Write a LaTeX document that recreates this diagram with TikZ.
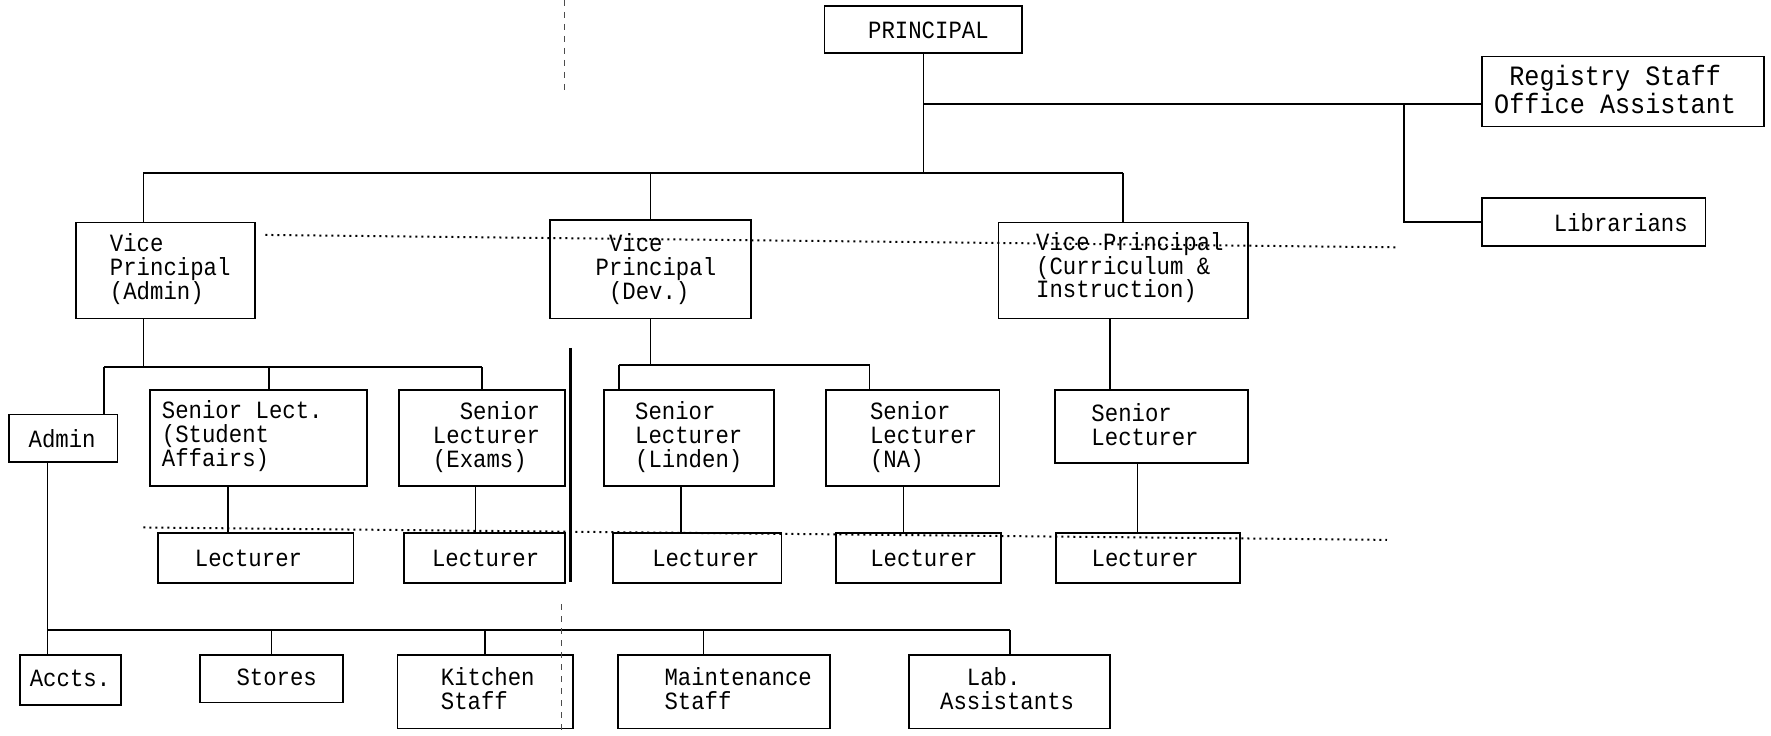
\documentclass[tikz,border=0pt]{standalone}
\usepackage{fontspec}
\newfontfamily\tw{Liberation Mono}[FakeStretch=0.9]
\usetikzlibrary{fit}
\begin{document}
\begin{tikzpicture}[x=0.56475pt,y=-0.56475pt,
  txt/.style={font=\tw\fontsize{12.4}{11.9}\selectfont},
  orgbox/.style={draw, line width=0.9pt, inner sep=0pt},
  lbl/.style={inner sep=0pt, align=left, txt, anchor=west},
  word/.style={inner sep=0pt, txt, anchor=center},
  link/.style={line width=0.8pt},
  dots/.style={line width=1pt, dotted},
  fold/.style={line width=0.6pt, dashed, black!70}]
\useasboundingbox (0,0) rectangle (1568,651);

% ---- top level ----
\node[orgbox, fit={(730,5) (905,47)}] (principal) {};
\node[word] (principal-t) at (822,27) {PRINCIPAL};
\node[orgbox, fit={(1312,50) (1562,112)}] (reg) {};
\node[word, align=center, font=\tw\fontsize{14}{10.7}\selectfont] (reg-t) at (1430,79)
  {Registry Staff\\Office Assistant};
\node[orgbox, fit={(1312,175) (1510,218)}] (lib) {};
\node[word] (lib-t) at (1435,197) {Librarians};

% ---- vice principals ----
\node[orgbox, fit={(67,197) (226,282)}] (vpA) {};
\node[lbl] (vpA-t) at (97,238) {Vice\\Principal\\(Admin)};
\node[orgbox, fit={(487,195) (665,282)}] (vpD) {};
\node[lbl] (vpD-t) at (527,238) {\hphantom{x}Vice\\Principal\\\hphantom{x}(Dev.)};
\node[orgbox, fit={(884,197) (1105,282)}] (vpC) {};
\node[lbl] (vpC-t) at (917,237) {Vice Principal\\(Curriculum \&\\Instruction)};

% ---- senior lecturers ----
\node[orgbox, fit={(8,367) (104,409)}] (admin) {};
\node[word] (admin-t) at (55,388) {Admin};
\node[orgbox, fit={(133,345) (325,430)}] (slSA) {};
\node[lbl] (slSA-t) at (143,386) {Senior Lect.\\(Student\\Affairs)};
\node[orgbox, fit={(353,345) (500,430)}] (slEx) {};
\node[lbl] (slEx-t) at (383,387) {\hphantom{xx}Senior\\Lecturer\\(Exams)};
\node[orgbox, fit={(535,345) (685,430)}] (slLi) {};
\node[lbl] (slLi-t) at (562,387) {Senior\\Lecturer\\(Linden)};
\node[orgbox, fit={(731,345) (885,430)}] (slNA) {};
\node[lbl] (slNA-t) at (770,387) {Senior\\Lecturer\\(NA)};
\node[orgbox, fit={(934,345) (1105,410)}] (slCI) {};
\node[lbl] (slCI-t) at (966,376) {Senior\\Lecturer};

% ---- lecturers ----
\node[orgbox, fit={(140,472) (313,516)}] (L1) {};
\node[word] (L1-t) at (220,494) {Lecturer};
\node[orgbox, fit={(358,472) (500,516)}] (L2) {};
\node[word] (L2-t) at (430,494) {Lecturer};
\node[orgbox, fit={(543,472) (692,516)}] (L3) {};
\node[word] (L3-t) at (625,494) {Lecturer};
\node[orgbox, fit={(740,472) (886,516)}] (L4) {};
\node[word] (L4-t) at (818,494) {Lecturer};
\node[orgbox, fit={(935,472) (1098,516)}] (L5) {};
\node[word] (L5-t) at (1014,494) {Lecturer};

% ---- support staff ----
\node[orgbox, fit={(18,580) (107,624)}] (accts) {};
\node[word] (accts-t) at (62,601) {Accts.};
\node[orgbox, fit={(177,580) (304,622)}] (stores) {};
\node[word] (stores-t) at (245,600) {Stores};
\node[orgbox, fit={(352,580) (507,645)}] (kitchen) {};
\node[lbl] (kitchen-t) at (390,610) {Kitchen\\Staff};
\node[orgbox, fit={(547,580) (735,645)}] (maint) {};
\node[lbl] (maint-t) at (588,610) {Maintenance\\Staff};
\node[orgbox, fit={(805,580) (983,645)}] (lab) {};
\node[lbl] (lab-t) at (832,610) {\hphantom{xx}Lab.\\Assistants};

% ---- bar levels and drop positions ----
\coordinate (barT) at (0,153);
\coordinate (barR) at (0,92);
\coordinate (barA) at (0,325);
\coordinate (barD) at (0,323);
\coordinate (barB) at (0,558);
\coordinate (xA) at (127,0);
\coordinate (xL) at (1243,0);
\coordinate (xAd) at (92,0);
\coordinate (xSA) at (238,0);
\coordinate (xLi) at (548,0);
\coordinate (xNA) at (770,0);
\coordinate (xC) at (983,0);
\coordinate (x1) at (202,0);
\coordinate (x2) at (421,0);
\coordinate (x3) at (603,0);
\coordinate (x4) at (800,0);
\coordinate (x5) at (1007,0);
\coordinate (xAc) at (42,0);
\coordinate (xMa) at (623,0);

% ---- principal to vice principals ----
\draw[link] (principal.south) -- (principal.south |- barT);
\draw[link] (xA |- barT) -- (vpC.north |- barT);
\draw[link] (xA |- barT) -- (vpA.north -| xA);
\draw[link] (vpD.north |- barT) -- (vpD.north);
\draw[link] (vpC.north |- barT) -- (vpC.north);

% ---- principal to registry and library ----
\draw[link] (principal.south |- barR) -- (reg.west |- barR);
\draw[link] (xL |- barR) |- (lib.west);

% ---- vice principal (admin) ----
\draw[link] (vpA.south -| xA) -- (xA |- barA);
\draw[link] (xAd |- barA) -- (slEx.north |- barA);
\draw[link] (xAd |- barA) -- (admin.north -| xAd);
\draw[link] (xSA |- barA) -- (slSA.north -| xSA);
\draw[link] (slEx.north |- barA) -- (slEx.north);

% ---- vice principal (dev.) ----
\draw[link] (vpD.south) -- (vpD.south |- barD);
\draw[link] (xLi |- barD) -- (xNA |- barD);
\draw[link] (xLi |- barD) -- (slLi.north -| xLi);
\draw[link] (xNA |- barD) -- (slNA.north -| xNA);

% ---- vice principal (curriculum) ----
\draw[link] (vpC.south -| xC) -- (slCI.north -| xC);

% ---- senior lecturers to lecturers ----
\draw[link] (slSA.south -| x1) -- (L1.north -| x1);
\draw[link] (slEx.south -| x2) -- (L2.north -| x2);
\draw[link] (slLi.south -| x3) -- (L3.north -| x3);
\draw[link] (slNA.south -| x4) -- (L4.north -| x4);
\draw[link] (slCI.south -| x5) -- (L5.north -| x5);

% ---- admin to support staff ----
\draw[link] (admin.south -| xAc) -- (accts.north -| xAc);
\draw[link] (xAc |- barB) -- (lab.north |- barB);
\draw[link] (stores.north |- barB) -- (stores.north);
\draw[link] (kitchen.north |- barB) -- (kitchen.north);
\draw[link] (xMa |- barB) -- (maint.north -| xMa);
\draw[link] (lab.north |- barB) -- (lab.north);

% ---- dotted coordination lines ----
\draw[dots] (235,208) -- (1238,219);
\draw[dots] (127,467) -- (1228,478);

% ---- fold line across the sheet ----
\draw[fold] (500,0) -- (500,80);
\draw[line width=1.2pt] (505,308) -- (505,515);
\draw[fold] (497,535) -- (497,651);
\end{tikzpicture}
\end{document}
